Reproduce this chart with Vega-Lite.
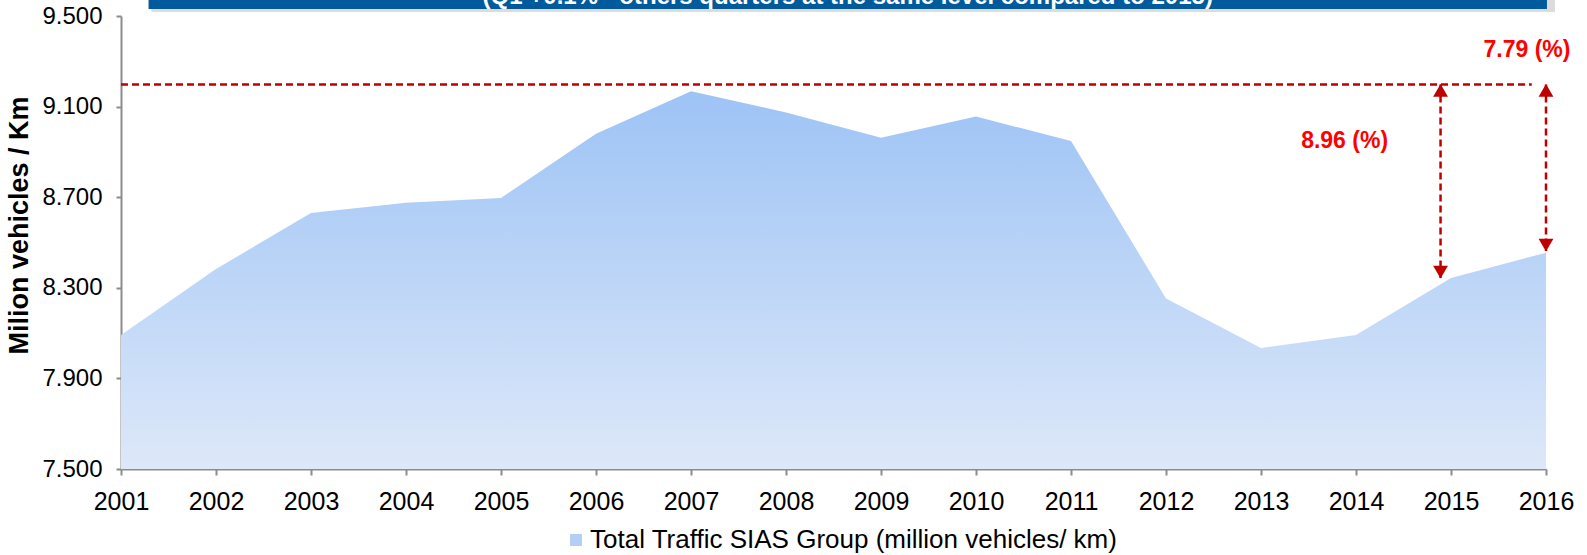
{
  "$schema": "https://vega.github.io/schema/vega-lite/v6.json",
  "autosize": {"type": "none"},
  "width": 1425,
  "height": 453,
  "padding": {"left": 121, "top": 16, "right": 41, "bottom": 86},
  "background": "white",
  "config": {
    "font": "Liberation Sans",
    "view": {"stroke": null}
  },
  "datasets": {
    "traffic": [
      {"year": 2001, "value": 8.092, "base": 7.5},
      {"year": 2002, "value": 8.383, "base": 7.5},
      {"year": 2003, "value": 8.630, "base": 7.5},
      {"year": 2004, "value": 8.675, "base": 7.5},
      {"year": 2005, "value": 8.697, "base": 7.5},
      {"year": 2006, "value": 8.980, "base": 7.5},
      {"year": 2007, "value": 9.168, "base": 7.5},
      {"year": 2008, "value": 9.074, "base": 7.5},
      {"year": 2009, "value": 8.962, "base": 7.5},
      {"year": 2010, "value": 9.056, "base": 7.5},
      {"year": 2011, "value": 8.948, "base": 7.5},
      {"year": 2012, "value": 8.253, "base": 7.5},
      {"year": 2013, "value": 8.034, "base": 7.5},
      {"year": 2014, "value": 8.092, "base": 7.5},
      {"year": 2015, "value": 8.343, "base": 7.5},
      {"year": 2016, "value": 8.455, "base": 7.5}
    ],
    "series": [
      {"name": "Total Traffic SIAS Group (million vehicles/ km)", "year": 2001, "value": 8.092}
    ],
    "banner": [
      {"x1": 2001.29, "x2": 2016.01, "y1": 9.531, "y2": 9.75, "label": "(Q1 +0.1% - others quarters at the same level compared to 2015)", "tx": 2008.65, "ty": 9.553}
    ],
    "refline": [
      {"x1": 2001, "x2": 2015.85, "y": 9.198}
    ],
    "arrows": [
      {"ax": 2014.89, "top": 9.198, "bottom": 8.343},
      {"ax": 2016, "top": 9.198, "bottom": 8.462}
    ],
    "labels": [
      {"lx": 2015.8, "ly": 9.35, "text": "7.79 (%)"},
      {"lx": 2013.88, "ly": 8.95, "text": "8.96 (%)"}
    ]
  },
  "layer": [
    {
      "data": {"name": "banner"},
      "mark": {"type": "rect", "fill": "#8c8c8c", "opacity": 0.3, "xOffset": 3, "x2Offset": 8, "yOffset": 3, "y2Offset": 6},
      "encoding": {
        "x": {"field": "x1", "type": "quantitative", "scale": {"domain": [2001, 2016], "nice": false, "zero": false}},
        "x2": {"field": "x2"},
        "y": {"field": "y1", "type": "quantitative"},
        "y2": {"field": "y2"}
      }
    },
    {
      "data": {"name": "banner"},
      "mark": {"type": "rect", "fill": "#005a9c"},
      "encoding": {
        "x": {"field": "x1", "type": "quantitative"},
        "x2": {"field": "x2"},
        "y": {"field": "y1", "type": "quantitative"},
        "y2": {"field": "y2"}
      }
    },
    {
      "data": {"name": "banner"},
      "mark": {"type": "text", "color": "white", "fontWeight": "bold", "fontSize": 24, "baseline": "alphabetic", "align": "center"},
      "encoding": {
        "x": {"field": "tx", "type": "quantitative"},
        "y": {"field": "ty", "type": "quantitative"},
        "text": {"field": "label"}
      }
    },
    {
      "data": {"name": "traffic"},
      "mark": {"type": "area", "line": false, "clip": true, "color": {"gradient": "linear", "x1": 0, "y1": 0, "x2": 0, "y2": 1, "stops": [{"offset": 0, "color": "#9dc3f5"}, {"offset": 1, "color": "#dde8f9"}]}},
      "encoding": {
        "x": {
          "field": "year", "type": "quantitative",
          "scale": {"domain": [2001, 2016], "nice": false, "zero": false},
          "axis": {
            "title": null, "values": [2001,2002,2003,2004,2005,2006,2007,2008,2009,2010,2011,2012,2013,2014,2015,2016],
            "format": "d", "labelFontSize": 25, "labelColor": "#000000", "labelFlush": false,
            "grid": false, "tickSize": 6, "tickColor": "#8c8c8c", "tickWidth": 2,
            "domainColor": "#8c8c8c", "domainWidth": 2, "labelPadding": 14, "labelOverlap": false
          }
        },
        "y": {
          "field": "value", "type": "quantitative",
          "scale": {"domain": [7.5, 9.5], "nice": false, "zero": false},
          "axis": {
            "title": "Milion vehicles / Km", "titleFontSize": 27, "titleFontWeight": "bold", "titleColor": "#000000",
            "titlePadding": 8, "titleY": 209,
            "values": [7.5, 7.9, 8.3, 8.7, 9.1, 9.5], "format": ".3f",
            "labelFontSize": 24, "labelColor": "#000000", "labelPadding": 14, "labelFlush": false,
            "grid": false, "tickSize": 5, "tickColor": "#8c8c8c", "tickWidth": 2,
            "domainColor": "#8c8c8c", "domainWidth": 2
          }
        },
        "y2": {"field": "base"}
      }
    },
    {
      "data": {"name": "series"},
      "mark": {"type": "square", "size": 0, "opacity": 0},
      "encoding": {
        "x": {"field": "year", "type": "quantitative"},
        "y": {"field": "value", "type": "quantitative"},
        "fill": {
          "field": "name", "type": "nominal",
          "scale": {"range": ["#b4cff4"]},
          "legend": {
            "title": null, "orient": "none", "legendX": 442, "legendY": 511,
            "symbolType": "square", "symbolSize": 144, "symbolStrokeWidth": 0, "symbolOpacity": 1,
            "labelFontSize": 26, "labelColor": "#000000", "labelLimit": 900, "labelOffset": 1,
            "encode": {"symbols": {"update": {"opacity": {"value": 1}, "fillOpacity": {"value": 1}, "size": {"value": 144}, "fill": {"value": {"gradient": "linear", "x1": 0, "y1": 0, "x2": 0, "y2": 1, "stops": [{"offset": 0, "color": "#a6c8f4"}, {"offset": 1, "color": "#dde8f9"}]}}}}}
          }
        }
      }
    },
    {
      "data": {"name": "refline"},
      "mark": {"type": "rule", "color": "#c00000", "strokeWidth": 2.5, "strokeDash": [7, 4]},
      "encoding": {
        "x": {"field": "x1", "type": "quantitative"},
        "x2": {"field": "x2"},
        "y": {"field": "y", "type": "quantitative"}
      }
    },
    {
      "data": {"name": "arrows"},
      "mark": {"type": "rule", "color": "#c00000", "strokeWidth": 2.5, "strokeDash": [7, 4]},
      "encoding": {
        "x": {"field": "ax", "type": "quantitative"},
        "y": {"field": "top", "type": "quantitative"},
        "y2": {"field": "bottom"}
      }
    },
    {
      "data": {"name": "arrows"},
      "mark": {"type": "point", "shape": "triangle-up", "filled": true, "color": "#c00000", "opacity": 1, "size": 220, "yOffset": 6},
      "encoding": {
        "x": {"field": "ax", "type": "quantitative"},
        "y": {"field": "top", "type": "quantitative"}
      }
    },
    {
      "data": {"name": "arrows"},
      "mark": {"type": "point", "shape": "triangle-down", "filled": true, "color": "#c00000", "opacity": 1, "size": 220, "yOffset": -6},
      "encoding": {
        "x": {"field": "ax", "type": "quantitative"},
        "y": {"field": "bottom", "type": "quantitative"}
      }
    },
    {
      "data": {"name": "labels"},
      "mark": {"type": "text", "color": "#ff0000", "fontWeight": "bold", "fontSize": 23, "align": "center", "baseline": "middle"},
      "encoding": {
        "x": {"field": "lx", "type": "quantitative"},
        "y": {"field": "ly", "type": "quantitative"},
        "text": {"field": "text"}
      }
    }
  ]
}
